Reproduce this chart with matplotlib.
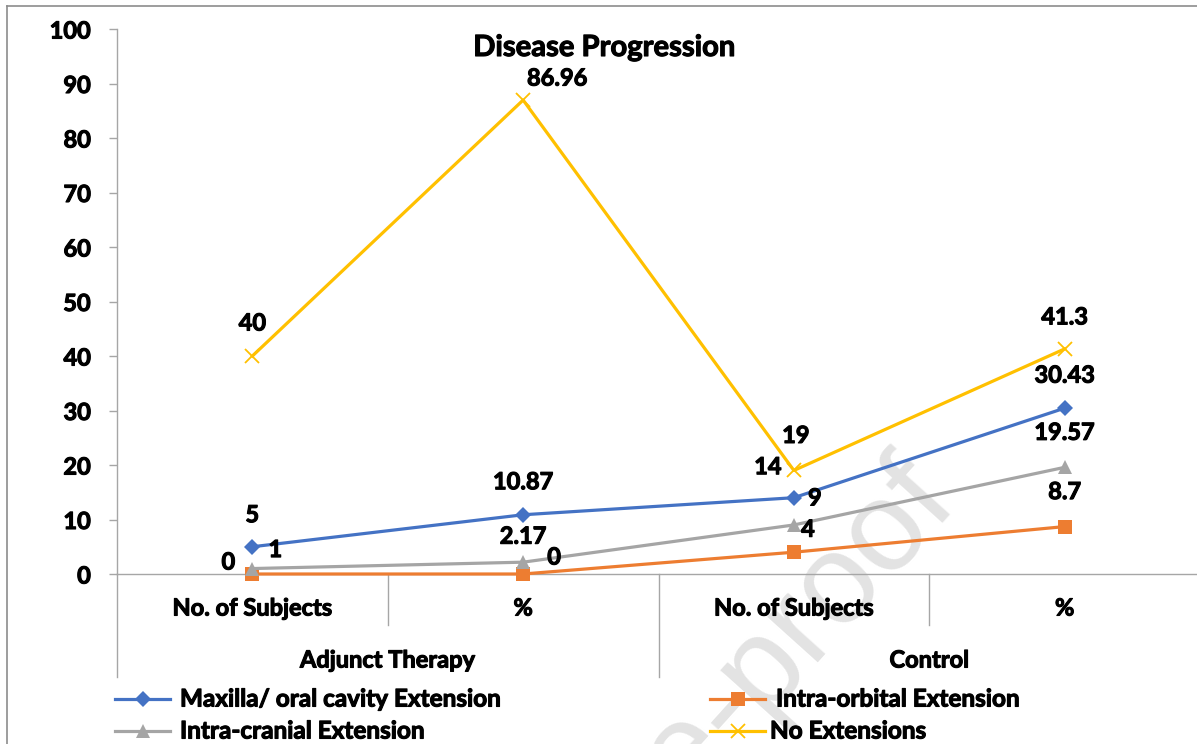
import matplotlib
matplotlib.use("Agg")
import matplotlib.pyplot as plt
import matplotlib.transforms as mtrans
import matplotlib.patheffects as pe
from matplotlib.lines import Line2D

plt.rcParams["font.family"] = ["Lato", "DejaVu Sans"]
plt.rcParams["font.weight"] = "bold"

# ---- data ----
groups = ["Adjunct Therapy", "Control"]
categories = ["No. of Subjects", "%", "No. of Subjects", "%"]
series_names = ["Maxilla/ oral cavity Extension", "Intra-orbital Extension",
                "Intra-cranial Extension", "No Extensions"]
maxilla = [5, 10.87, 14, 30.43]
intra_orbital = [0, 0, 4, 8.7]
intra_cranial = [1, 2.17, 9, 19.57]
no_extensions = [40, 86.96, 19, 41.3]
y_ticks = [0, 10, 20, 30, 40, 50, 60, 70, 80, 90, 100]
title = "Disease Progression"
watermark = "Journal Pre-proof"

# ---- styles ----
colors = ["#4472C4", "#ED7D31", "#A5A5A5", "#FFC000"]
markers = ["D", "s", "^", "x"]
msizes = [8, 10, 10, 10]
FS = 17
heavy = [pe.withStroke(linewidth=0.8, foreground="black")]
txt = dict(fontweight="bold", color="black", path_effects=heavy)
# label offsets (pixels) from each point, per series
label_offsets = [
    [(0, 32), (0, 33), (-26, 31), (0, 33)],
    [(-24, 12), (31, 17), (14, 23), (0, 35)],
    [(23, 19), (0, 26), (21, 27), (0, 35)],
    [(0, 33), (34, 22), (2, 35), (0, 32)],
]

W, H = 1197, 744
fig = plt.figure(figsize=(W / 100, H / 100), dpi=100)


def fx(px):
    return px / W


def fy(py):
    return 1 - py / H


ax_left, ax_right, ax_top, ax_bottom = 117, 1200, 29, 574
ax = fig.add_axes([fx(ax_left), fy(ax_bottom), fx(ax_right) - fx(ax_left),
                   fy(ax_top) - fy(ax_bottom)])
ax.set_facecolor("none")
ax_h = ax_bottom - ax_top

ax.set_xlim(-0.5, len(categories) - 0.5)
ax.set_ylim(0, 100)
ax.set_yticks(y_ticks)
ax.set_yticklabels([str(t) for t in y_ticks], fontsize=FS, **txt)
ax.set_xticks([])
ax.tick_params(axis="y", length=5.8, width=1, color="#A6A6A6", pad=13)
for s in ["top", "right"]:
    ax.spines[s].set_visible(False)
for s in ["left", "bottom"]:
    ax.spines[s].set_color("#A6A6A6")
    ax.spines[s].set_linewidth(1)

x = list(range(len(categories)))
all_series = [maxilla, intra_orbital, intra_cranial, no_extensions]
for vals, c, m, ms, offs in zip(all_series, colors, markers, msizes, label_offsets):
    ax.plot(x, vals, color=c, lw=2.3, marker=m, ms=ms,
            mew=(1.3 if m == "x" else 0), mec=c, mfc=c, zorder=3, clip_on=False)
    for xi, v, (dx, dy) in zip(x, vals, offs):
        ax.annotate(f"{v:g}", (xi, v), xytext=(dx, dy), textcoords="offset pixels",
                    ha="center", va="center", fontsize=FS, zorder=4, **txt)

# category axis: separators and two-level labels
trans = mtrans.blended_transform_factory(ax.transData, ax.transAxes)
short = -(625 - ax_bottom) / ax_h
long_ = -(677 - ax_bottom) / ax_h
n_per_group = len(categories) // len(groups)
for i in range(len(categories) + 1):
    b = i - 0.5
    y_end = long_ if i % n_per_group == 0 else short
    ax.plot([b, b], [0, y_end], transform=trans, color="#A6A6A6", lw=1,
            clip_on=False)
for i, cat in enumerate(categories):
    ax.text(i, -(608 - ax_bottom) / ax_h, cat, transform=trans, ha="center",
            va="center", fontsize=FS, **txt)
for g, name in enumerate(groups):
    centre = g * n_per_group + (n_per_group - 1) / 2
    ax.text(centre, -(660 - ax_bottom) / ax_h, name, transform=trans,
            ha="center", va="center", fontsize=FS, **txt)

# title
fig.text(fx(604), fy(48), title, ha="center", va="center", fontsize=21, **txt)

# legend
legend_pos = [(115, 699), (710, 699), (115, 731), (710, 731)]
text_x = [180, 776, 180, 770]
for (lx, ly), tx, name, c, m, ms in zip(legend_pos, text_x, series_names,
                                        colors, markers, msizes):
    fig.add_artist(Line2D([fx(lx), fx(lx + 55)], [fy(ly), fy(ly)], color=c,
                          lw=2.3, transform=fig.transFigure))
    fig.add_artist(Line2D([fx(lx + 27.5)], [fy(ly)], color=c, marker=m, ms=ms,
                          mew=(1.3 if m == "x" else 0), mec=c, mfc=c,
                          transform=fig.transFigure))
    fig.text(fx(tx), fy(ly), name, ha="left", va="center", fontsize=17.5, **txt)

# chart frame
fig.add_artist(Line2D([fx(7), fx(7)], [fy(6), 0], color="#8C8C8C", lw=1.2,
                      transform=fig.transFigure))
fig.add_artist(Line2D([fx(7), 1], [fy(6), fy(6)], color="#8C8C8C", lw=1.2,
                      transform=fig.transFigure))

# page watermark, drawn beneath the chart
fig.text(fx(960), fy(505), watermark, ha="right", va="baseline",
         rotation=48, rotation_mode="anchor", fontsize=92, fontweight="normal",
         family=["Liberation Sans"], color="#E3E3E3", zorder=-1)

fig.savefig("out.png", dpi=100)
